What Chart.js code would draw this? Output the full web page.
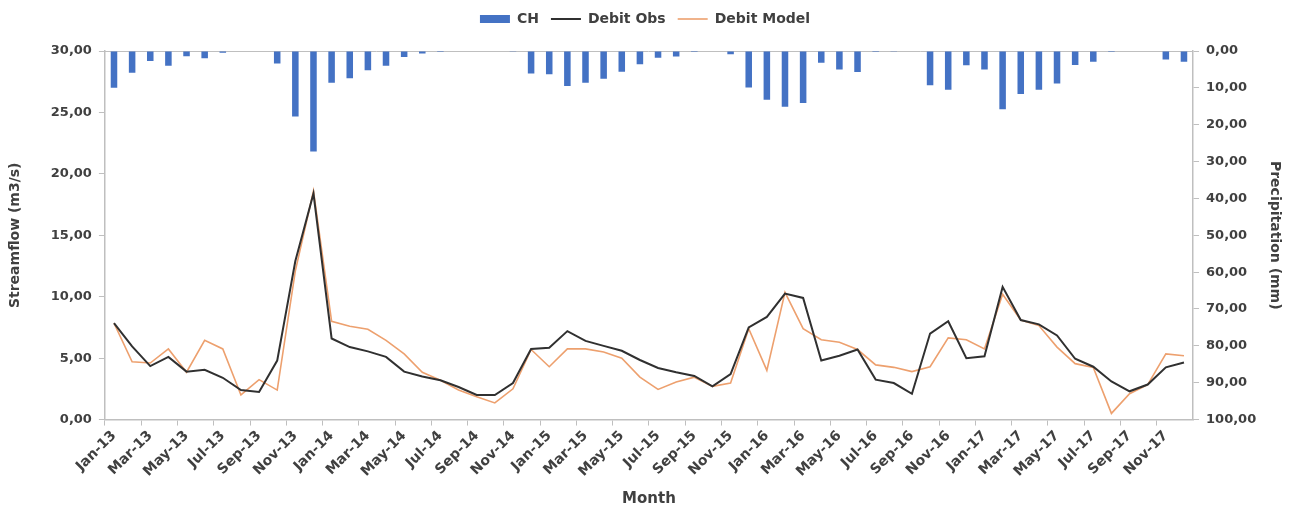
<!DOCTYPE html>
<html>
<head>
<meta charset="utf-8">
<script src="https://cdn.jsdelivr.net/npm/chart.js@4.4.0/dist/chart.umd.min.js"></script>
<style>
  body { margin: 0; background: #fff; }
  #wrap { width: 1291px; height: 508px; }
</style>
</head>
<body>
<div id="wrap"><canvas id="chart1"></canvas></div>
<script>
// Bulan Jan-13 .. Dec-17
const months = [
  'Jan-13','Feb-13','Mar-13','Apr-13','May-13','Jun-13','Jul-13','Aug-13','Sep-13','Oct-13','Nov-13','Dec-13',
  'Jan-14','Feb-14','Mar-14','Apr-14','May-14','Jun-14','Jul-14','Aug-14','Sep-14','Oct-14','Nov-14','Dec-14',
  'Jan-15','Feb-15','Mar-15','Apr-15','May-15','Jun-15','Jul-15','Aug-15','Sep-15','Oct-15','Nov-15','Dec-15',
  'Jan-16','Feb-16','Mar-16','Apr-16','May-16','Jun-16','Jul-16','Aug-16','Sep-16','Oct-16','Nov-16','Dec-16',
  'Jan-17','Feb-17','Mar-17','Apr-17','May-17','Jun-17','Jul-17','Aug-17','Sep-17','Oct-17','Nov-17','Dec-17'
];

// Curah hujan (mm)
const chValues = [
  10.0, 5.9, 2.7, 4.0, 1.4, 2.0, 0.5, 0, 0, 3.4, 17.8, 27.3,
  8.6, 7.4, 5.2, 4.0, 1.6, 0.7, 0.3, 0, 0, 0, 0.2, 6.1,
  6.3, 9.5, 8.6, 7.5, 5.6, 3.6, 1.8, 1.5, 0.3, 0, 0.9, 9.9,
  13.2, 15.1, 14.1, 3.2, 5.0, 5.7, 0.3, 0.2, 0, 9.3, 10.5, 3.9,
  5.0, 15.8, 11.7, 10.5, 8.8, 3.8, 2.9, 0.3, 0, 0, 2.3, 2.9
];

// Debit observasi (m3/s)
const debitObs = [
  7.85, 5.95, 4.35, 5.1, 3.9, 4.05, 3.4, 2.4, 2.25, 4.8, 12.9, 18.4,
  6.6, 5.9, 5.55, 5.1, 3.9, 3.5, 3.2, 2.65, 2.0, 2.0, 2.97, 5.75,
  5.85, 7.2, 6.4, 6.0, 5.6, 4.85, 4.2, 3.85, 3.55, 2.7, 3.7, 7.5,
  8.35, 10.25, 9.9, 4.8, 5.2, 5.7, 3.25, 2.97, 2.1, 7.0, 8.0, 5.0,
  5.15, 10.8, 8.1, 7.75, 6.85, 4.95, 4.3, 3.1, 2.3, 2.85, 4.25, 4.65
];

// Debit model (m3/s)
const debitModel = [
  7.85, 4.7, 4.6, 5.75, 3.85, 6.45, 5.75, 2.0, 3.25, 2.4, 12.1, 18.6,
  8.0, 7.6, 7.35, 6.45, 5.35, 3.85, 3.2, 2.4, 1.85, 1.35, 2.5, 5.7,
  4.3, 5.75, 5.75, 5.5, 5.0, 3.45, 2.45, 3.05, 3.45, 2.7, 2.97, 7.4,
  4.0, 10.35, 7.4, 6.5, 6.3, 5.7, 4.45, 4.25, 3.9, 4.3, 6.65, 6.5,
  5.75, 10.2, 8.1, 7.65, 5.9, 4.55, 4.25, 0.5, 2.1, 2.85, 5.35, 5.2
];

const axisGray = '#bfbfbf';
const textGray = '#404040';
const fmt = v => Number(v).toFixed(2).replace('.', ',');

Chart.defaults.font.family = '"DejaVu Sans", sans-serif';
Chart.defaults.font.weight = 'bold';
Chart.defaults.font.size = 13;
Chart.defaults.color = textGray;

// jarak ekstra di bawah legend
const legendMargin = {
    id: 'legendMargin',
    beforeInit(chart) {
        const origFit = chart.legend.fit;
        chart.legend.fit = function fit() {
            origFit.bind(chart.legend)();
            this.height += 15;
        };
    }
};

const ctx = document.getElementById('chart1').getContext('2d');
const chart1 = new Chart(ctx, {
    type: 'bar',
    data: {
        labels: months,
        datasets: [{
            type: 'bar',
            label: 'CH',
            data: chValues,
            yAxisID: 'y2',
            backgroundColor: '#4472C4',
            borderWidth: 0,
            barPercentage: 0.36,
            categoryPercentage: 1,
            pointStyle: 'rect',
            order: 3
        }, {
            type: 'line',
            label: 'Debit Obs',
            data: debitObs,
            yAxisID: 'y',
            borderColor: '#303030',
            backgroundColor: '#303030',
            borderWidth: 2,
            pointRadius: 0,
            tension: 0,
            pointStyle: 'line',
            order: 1
        }, {
            type: 'line',
            label: 'Debit Model',
            data: debitModel,
            yAxisID: 'y',
            borderColor: '#EDA06E',
            backgroundColor: '#EDA06E',
            borderWidth: 1.6,
            pointRadius: 0,
            tension: 0,
            pointStyle: 'line',
            order: 2
        }]
    },
    options: {
        responsive: true,
        maintainAspectRatio: false,
        animation: false,
        layout: { padding: { left: 5, right: 6, top: 0, bottom: 0 } },
        scales: {
            x: {
                offset: true,
                grid: {
                    offset: true,
                    drawOnChartArea: false,
                    tickLength: 6,
                    color: c => (c.index % 2 === 0 ? axisGray : 'transparent')
                },
                border: { display: true, color: axisGray, width: 1.5 },
                ticks: {
                    autoSkip: false,
                    maxRotation: 45,
                    minRotation: 45,
                    padding: 2,
                    font: { size: 14 },
                    callback: (v, i) => (i % 2 === 0 ? months[i] : '')
                },
                title: { display: true, text: 'Month', font: { size: 15 }, padding: { top: 8, bottom: 0 } }
            },
            y: {
                position: 'left',
                min: 0,
                max: 30,
                ticks: { stepSize: 5, callback: v => fmt(v), padding: 7 },
                grid: { drawOnChartArea: false, tickLength: 6, color: axisGray },
                border: { display: true, color: axisGray, width: 1.5 },
                title: { display: true, text: 'Streamflow (m3/s)', font: { size: 14 }, padding: { top: 2, bottom: 20 } }
            },
            y2: {
                position: 'right',
                reverse: true,
                min: 0,
                max: 100,
                ticks: { stepSize: 10, callback: v => fmt(v), padding: 7 },
                grid: {
                    drawOnChartArea: true,
                    tickLength: 6,
                    tickColor: axisGray,
                    color: c => (c.tick && c.tick.value === 0 ? axisGray : 'transparent')
                },
                border: { display: true, color: axisGray, width: 1.5 },
                title: { display: true, text: 'Precipitation (mm)', font: { size: 14 }, padding: { top: 2, bottom: 3 } }
            }
        },
        plugins: {
            legend: {
                position: 'top',
                labels: {
                    usePointStyle: true,
                    pointStyleWidth: 30,
                    boxHeight: 8,
                    padding: 12,
                    font: { size: 14 },
                    sort: (a, b) => a.datasetIndex - b.datasetIndex
                }
            },
            tooltip: { enabled: false }
        }
    },
    plugins: [legendMargin]
});
</script>
</body>
</html>
